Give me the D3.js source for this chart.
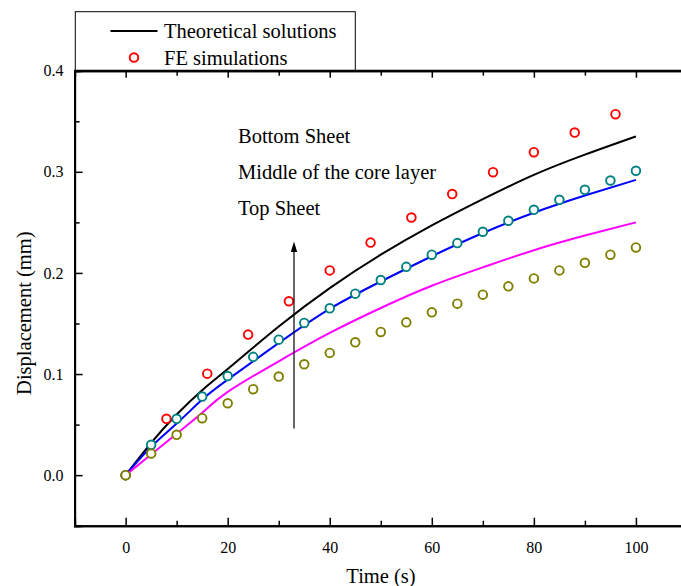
<!DOCTYPE html>
<html>
<head>
<meta charset="utf-8">
<script src="https://cdn.jsdelivr.net/npm/d3@7"></script>
<style>
  html, body { margin: 0; padding: 0; background: #fff; }
  svg { display: block; font-family: "Liberation Serif", "Times New Roman", serif; }
</style>
</head>
<body>
<svg id="chart" width="681" height="586"></svg>
<script>
// Theoretical displacement histories (mm) sampled in time (s)
const theoryTime = [0, 5, 10, 15, 20, 30, 40, 50, 60, 70, 80, 90, 100];
const theoryBottom = [0, 0.032, 0.060, 0.084, 0.105, 0.147, 0.185, 0.218, 0.247, 0.273, 0.297, 0.317, 0.335];
const theoryMiddle = [0, 0.028, 0.051, 0.0748, 0.0945, 0.1307, 0.1645, 0.1915, 0.2165, 0.2395, 0.2595, 0.2765, 0.292];
const theoryTop = [0, 0.0204, 0.041, 0.0616, 0.0823, 0.1126, 0.1406, 0.1653, 0.1873, 0.2055, 0.2225, 0.237, 0.25];

// Finite element results
const feTimeBottom = [0, 8, 16, 24, 32, 40, 48, 56, 64, 72, 80, 88, 96];
const feBottom = [0, 0.0557, 0.1004, 0.139, 0.172, 0.2025, 0.230, 0.2548, 0.278, 0.2996, 0.3194, 0.3388, 0.357];
const feTime = [0, 5, 10, 15, 20, 25, 30, 35, 40, 45, 50, 55, 60, 65, 70, 75, 80, 85, 90, 95, 100];
const feMiddle = [0, 0.030, 0.0557, 0.0777, 0.098, 0.117, 0.134, 0.1505, 0.165, 0.1795, 0.193, 0.206, 0.218, 0.2295, 0.2407, 0.2516, 0.2624, 0.2723, 0.2822, 0.2914, 0.301];
const feTop = [0, 0.0214, 0.0399, 0.0563, 0.0711, 0.085, 0.0975, 0.1097, 0.1209, 0.1314, 0.1416, 0.1511, 0.161, 0.1696, 0.1785, 0.1867, 0.1946, 0.2025, 0.21, 0.218, 0.2252];

// Axis ticks
const xMajorTicks = [0, 20, 40, 60, 80, 100];
const xMinorTicks = [10, 30, 50, 70, 90];
const yMajorTicks = [0.0, 0.1, 0.2, 0.3, 0.4];
const yMinorTicks = [0.05, 0.15, 0.25, 0.35];

const sheetLabels = ["Bottom Sheet", "Middle of the core layer", "Top Sheet"];
const legendLabels = ["Theoretical solutions", "FE simulations"];

(function draw() {
  const svg = d3.select("#chart");
  const plotLeft = 74.6, plotTop = 70.7, plotBottom = 525.7;

  const x = d3.scaleLinear().domain([-10, 110]).range([plotLeft, plotLeft + 120 * 5.103]);
  const y = d3.scaleLinear().domain([-0.05, 0.4]).range([plotBottom, plotTop]);

  const fmt = d3.format(".1f");

  // Bottom axis
  svg.append("g").attr("transform", `translate(0,${plotBottom})`)
    .call(d3.axisBottom(x).tickValues(xMajorTicks).tickSize(-8).tickPadding(16).tickFormat(d3.format("d")));
  svg.append("g").attr("transform", `translate(0,${plotBottom})`)
    .call(d3.axisBottom(x).tickValues(xMinorTicks).tickSize(-5).tickFormat(""));
  // Top mirror axis
  svg.append("g").attr("transform", `translate(0,${plotTop})`)
    .call(d3.axisTop(x).tickValues(xMajorTicks).tickSize(-7).tickFormat(""));
  svg.append("g").attr("transform", `translate(0,${plotTop})`)
    .call(d3.axisTop(x).tickValues(xMinorTicks).tickSize(-5).tickFormat(""));
  // Left axis
  svg.append("g").attr("transform", `translate(${plotLeft},0)`)
    .call(d3.axisLeft(y).tickValues(yMajorTicks).tickSize(-8).tickPadding(11).tickFormat(fmt));
  svg.append("g").attr("transform", `translate(${plotLeft},0)`)
    .call(d3.axisLeft(y).tickValues(yMinorTicks).tickSize(-5).tickFormat(""));

  svg.selectAll(".domain").attr("stroke", "#000").attr("stroke-width", 2);
  svg.selectAll(".tick line").attr("stroke", "#000").attr("stroke-width", 1.5);
  svg.selectAll(".tick text").attr("font-size", 16).attr("fill", "#000")
    .attr("font-family", "Liberation Serif");

  // Axis titles
  svg.append("text").attr("x", 381).attr("y", 583).attr("text-anchor", "middle")
    .attr("font-size", 20.5).text("Time (s)");
  svg.append("text").attr("transform", `translate(31,${(plotTop + plotBottom) / 2 + 15}) rotate(-90)`)
    .attr("text-anchor", "middle").attr("font-size", 20.5).text("Displacement (mm)");

  // Theoretical curves
  const theory = [
    { v: theoryBottom, color: "#000000" },
    { v: theoryMiddle, color: "#0000ff" },
    { v: theoryTop, color: "#ff00ff" }
  ];
  const line = d3.line().x(d => x(d[0])).y(d => y(d[1])).curve(d3.curveNatural);
  theory.forEach(s => {
    svg.append("path").datum(theoryTime.map((t, i) => [t, s.v[i]]))
      .attr("d", line).attr("fill", "none").attr("stroke", s.color).attr("stroke-width", 2);
  });

  // FE markers
  const fe = [
    { t: feTimeBottom, v: feBottom, color: "#ff0000" },
    { t: feTime, v: feMiddle, color: "#008080" },
    { t: feTime, v: feTop, color: "#808000" }
  ];
  fe.forEach(s => {
    svg.append("g").selectAll("circle").data(s.t.map((t, i) => [t, s.v[i]])).join("circle")
      .attr("cx", d => x(d[0])).attr("cy", d => y(d[1])).attr("r", 4.3)
      .attr("fill", "#fff").attr("stroke", s.color).attr("stroke-width", 1.9);
  });

  // Sheet annotations and arrow
  const annY = [143, 178.5, 215];
  sheetLabels.forEach((txt, i) => {
    svg.append("text").attr("x", 238).attr("y", annY[i]).attr("font-size", 20.5).text(txt);
  });
  svg.append("line").attr("x1", 294).attr("x2", 294).attr("y1", 428.5).attr("y2", 250)
    .attr("stroke", "#000").attr("stroke-width", 1.2);
  svg.append("path").attr("d", "M294,241.5 L290.8,252 L297.2,252 Z").attr("fill", "#000");

  // Legend
  svg.append("rect").attr("x", 75.3).attr("y", 11.7).attr("width", 280).attr("height", plotTop - 11.7)
    .attr("fill", "#fff").attr("stroke", "#000").attr("stroke-width", 1);
  svg.append("line").attr("x1", 110.5).attr("x2", 157.5).attr("y1", 31).attr("y2", 31)
    .attr("stroke", "#000").attr("stroke-width", 2);
  svg.append("circle").attr("cx", 134).attr("cy", 57.5).attr("r", 4.3)
    .attr("fill", "#fff").attr("stroke", "#ff0000").attr("stroke-width", 1.9);
  svg.append("text").attr("x", 164).attr("y", 38).attr("font-size", 20.5).text(legendLabels[0]);
  svg.append("text").attr("x", 164).attr("y", 64.5).attr("font-size", 20.5).text(legendLabels[1]);
  // Frame top edge drawn over the legend box
  svg.append("line").attr("x1", plotLeft).attr("x2", 681).attr("y1", plotTop).attr("y2", plotTop)
    .attr("stroke", "#000").attr("stroke-width", 2);
})();
</script>
</body>
</html>
